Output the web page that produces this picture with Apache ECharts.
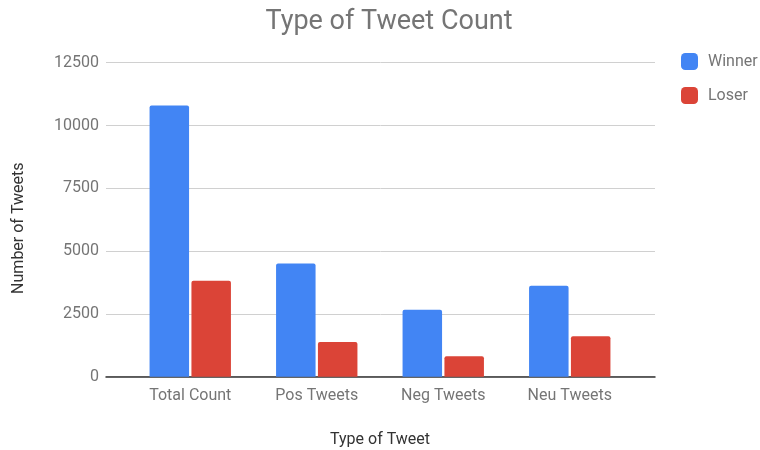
<!DOCTYPE html>
<html><head><meta charset="utf-8">
<script src="https://cdn.jsdelivr.net/npm/echarts@6/dist/echarts.min.js"></script>
<style>html,body{margin:0;padding:0;background:#fff}#c{width:760px;height:450px}</style>
</head><body><div id="c"></div>
<script>
const categories = ['Total Count', 'Pos Tweets', 'Neg Tweets', 'Neu Tweets'];
const winner = [10800, 4510, 2670, 3620];
const loser = [3820, 1380, 810, 1610];
const yTicks = [0, 2500, 5000, 7500, 10000, 12500];

const txt = '#757575';
const chart = echarts.init(document.getElementById('c'));
chart.setOption({
  animation: false,
  textStyle: { fontFamily: 'Roboto' },
  title: { text: 'Type of Tweet Count', left: 384, textAlign: 'center', top: 4,
    textStyle: { fontFamily: 'Roboto', fontSize: 27, fontWeight: 'normal', color: txt } },
  legend: { orient: 'vertical', left: 681, top: 53, padding: 0, itemWidth: 17, itemHeight: 17, itemGap: 17,
    icon: 'roundRect', textStyle: { color: txt, fontSize: 16, fontFamily: 'Roboto', padding: [0, 0, 0, 5] },
    data: ['Winner', 'Loser'] },
  grid: [
    { left: 106, right: 105, top: 62.7, bottom: 73.3, outerBoundsMode: 'none', containLabel: false },
    { left: 127, right: 127, top: 62.7, bottom: 73.3, outerBoundsMode: 'none', containLabel: false }
  ],
  xAxis: [
    { type: 'category', gridIndex: 0, data: categories,
      axisLine: { lineStyle: { color: '#333', width: 1.5 } }, axisTick: { show: false },
      axisLabel: { show: false } },
    { type: 'category', gridIndex: 1, data: categories,
      axisLine: { show: false }, axisTick: { show: false },
      axisLabel: { color: txt, fontSize: 16, margin: 11 },
      name: 'Type of Tweet', nameLocation: 'middle', nameGap: 55,
      nameTextStyle: { color: '#333', fontSize: 16 } }
  ],
  yAxis: [
    { type: 'value', gridIndex: 0, min: 0, max: 12500, interval: 2500,
      axisLine: { show: false }, axisTick: { show: false },
      axisLabel: { color: txt, fontSize: 16, margin: 7, formatter: v => String(v) },
      splitLine: { lineStyle: { color: '#d0d0d0' } },
      name: 'Number of Tweets', nameLocation: 'middle', nameGap: 79, nameRotate: 90,
      nameTextStyle: { color: '#333', fontSize: 16, padding: [0, 17, 0, 0] } },
    { type: 'value', gridIndex: 1, min: 0, max: 12500, show: false, splitLine: { show: false } }
  ],
  series: [
    { name: 'Winner', type: 'bar', xAxisIndex: 1, yAxisIndex: 1, data: winner,
      barWidth: 39.5, barGap: '6%', itemStyle: { color: '#4285F4', borderRadius: [2, 2, 0, 0] } },
    { name: 'Loser', type: 'bar', xAxisIndex: 1, yAxisIndex: 1, data: loser,
      barWidth: 39.5, barGap: '6%', itemStyle: { color: '#DB4437', borderRadius: [2, 2, 0, 0] } }
  ]
});
</script></body></html>
